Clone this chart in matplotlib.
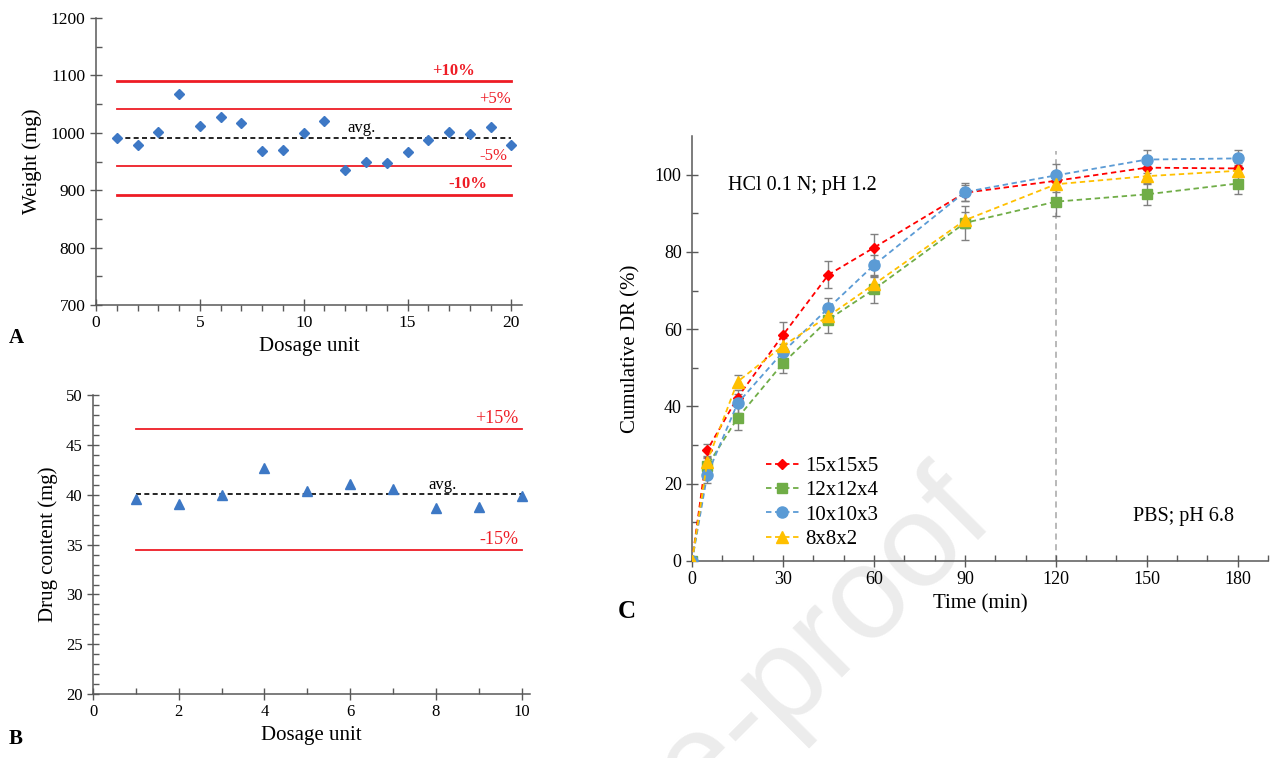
import matplotlib
matplotlib.use("Agg")
import matplotlib.pyplot as plt
from matplotlib.ticker import MultipleLocator, FixedLocator
import numpy as np

plt.rcParams["font.family"] = ["Liberation Serif", "DejaVu Serif"]

# panel A - weight uniformity
unit_a = list(range(1, 21))
weight = [991.8, 979, 1002, 1068, 1011.6, 1028, 1017.4, 968.6, 970.4, 1000,
          1020, 936, 949.5, 947.7, 967, 987, 1002, 998, 1010.5, 979.6]

# panel B - content uniformity
unit_b = list(range(1, 11))
content = [39.64, 39.07, 40.04, 42.71, 40.4, 41.07, 40.64, 38.67, 38.74, 39.94]
content_nominal = 40.5

# panel C - dissolution
time_min = [0, 5, 15, 30, 45, 60, 90, 120, 150, 180]
series_names = ["15x15x5", "12x12x4", "10x10x3", "8x8x2"]
dr_15 = [0, 28.7, 42.3, 58.5, 74.1, 81.1, 95.3, 98.4, 101.8, 101.6]
sd_15 = [0, 1.7, 2.0, 3.3, 3.5, 3.6, 2.0, 2.0, 1.5, 1.5]
dr_12 = [0, 24.6, 37.0, 51.2, 62.5, 70.3, 87.5, 93.0, 94.9, 97.7]
sd_12 = [0, 2.0, 3.1, 2.6, 3.6, 3.4, 4.5, 3.8, 2.7, 2.8]
dr_10 = [0, 22.3, 40.8, 54.1, 65.5, 76.6, 95.5, 99.8, 103.9, 104.2]
sd_10 = [0, 2.0, 2.5, 2.0, 2.5, 2.5, 2.3, 3.0, 2.4, 2.2]
dr_8 = [0, 25.7, 46.4, 55.7, 63.4, 71.6, 88.2, 97.5, 99.6, 101.0]
sd_8 = [0, 1.5, 1.7, 2.0, 2.0, 2.0, 2.0, 2.0, 1.7, 1.5]
medium_switch = 120
switch_top = 106

RED = "#ee1c25"
BLUE = "#3d78c5"
AXC = "#595959"


def style_axis(ax):
    for s in ["top", "right"]:
        ax.spines[s].set_visible(False)
    for s in ["left", "bottom"]:
        ax.spines[s].set_color(AXC)
        ax.spines[s].set_linewidth(1.1)
    ax.set_facecolor("none")
    ax.tick_params(which="major", direction="inout", length=8, width=1, color=AXC)
    ax.tick_params(which="minor", direction="in", length=4, width=1, color=AXC)


def limit_lines(ax, x, center, pcts, widths, labels, label_x, bold, fs):
    for p, lw, lab, lx, b in zip(pcts, widths, labels, label_x, bold):
        yv = center * (1 + p / 100)
        ax.plot([x[0], x[-1]], [yv, yv], color=RED, lw=lw, zorder=2)
        ax.annotate(lab, (lx, yv), xytext=(0, 1.5), textcoords="offset points",
                    ha="right", va="bottom", color=RED, fontsize=fs,
                    fontweight="bold" if b else "normal")


fig = plt.figure(figsize=(12.71, 7.58), dpi=100)

# faint watermark, only its tail is inside the picture
fig.text(0.7655, 0.342, "Journal Pre-proof", rotation=45, rotation_mode="anchor",
         ha="right", va="center", fontsize=95, color="#ececec",
         family="Liberation Sans", zorder=-1)

# ---- A ----
ax_a = fig.add_axes([0.0755, 0.5976, 0.335, 0.3786])
style_axis(ax_a)
avg_a = np.mean(weight)
limit_lines(ax_a, unit_a, avg_a, [10, 5, -5, -10], [2.0, 1.3, 1.3, 2.0],
            ["+10%", "+5%", "-5%", "-10%"], [18.25, 20.0, 19.8, 18.85],
            [True, False, False, True], 12)
ax_a.plot([unit_a[0], unit_a[-1]], [avg_a, avg_a], color="black", ls=(0, (3, 2)), lw=1.2)
ax_a.annotate("avg.", (12.8, avg_a), xytext=(0, 1), textcoords="offset points",
              ha="center", va="bottom", fontsize=12)
ax_a.plot(unit_a, weight, "D", color=BLUE, ms=5.5, ls="none", zorder=3)
ax_a.set_xlim(0, 20.5)
ax_a.set_ylim(700, 1200)
ax_a.xaxis.set_major_locator(FixedLocator([0, 5, 10, 15, 20]))
ax_a.xaxis.set_minor_locator(MultipleLocator(1))
ax_a.yaxis.set_major_locator(MultipleLocator(100))
ax_a.yaxis.set_minor_locator(MultipleLocator(50))
ax_a.tick_params(axis="x", which="minor", direction="out", length=4)
ax_a.tick_params(labelsize=12.5)
ax_a.set_ylabel("Weight (mg)", fontsize=15, labelpad=6)
ax_a.set_xlabel("Dosage unit", fontsize=15, labelpad=4)
fig.text(0.007, 0.547, "A", fontsize=15, fontweight="bold")

# ---- B ----
ax_b = fig.add_axes([0.0732, 0.0844, 0.344, 0.394])
style_axis(ax_b)
avg_b = np.mean(content)
limit_lines(ax_b, unit_b, content_nominal, [15, -15], [1.3, 1.3],
            ["+15%", "-15%"], [9.93, 9.93], [False, False], 13)
ax_b.plot([unit_b[0], unit_b[-1]], [avg_b, avg_b], color="black", ls=(0, (3, 2)), lw=1.2)
ax_b.annotate("avg.", (8.15, avg_b), xytext=(0, 1), textcoords="offset points",
              ha="center", va="bottom", fontsize=12)
ax_b.plot(unit_b, content, "^", color=BLUE, ms=6.5, ls="none", zorder=3)
ax_b.set_xlim(0, 10.2)
ax_b.set_ylim(20, 50)
ax_b.xaxis.set_major_locator(FixedLocator([0, 2, 4, 6, 8, 10]))
ax_b.xaxis.set_minor_locator(MultipleLocator(1))
ax_b.yaxis.set_major_locator(MultipleLocator(5))
ax_b.yaxis.set_minor_locator(MultipleLocator(1))
ax_b.tick_params(labelsize=12)
ax_b.set_ylabel("Drug content (mg)", fontsize=15, labelpad=6)
ax_b.set_xlabel("Dosage unit", fontsize=15, labelpad=4)
fig.text(0.007, 0.018, "B", fontsize=15, fontweight="bold")

# ---- C ----
ax_c = fig.add_axes([0.5445, 0.2599, 0.4532, 0.5607])
style_axis(ax_c)
ax_c.plot([medium_switch, medium_switch], [0, switch_top], color="#a6a6a6",
          ls=(0, (4, 3)), lw=1.1, zorder=1)
colors = ["#ff0000", "#70ad47", "#5b9bd5", "#ffc000"]
markers = ["D", "s", "o", "^"]
msizes = [5, 7.5, 8, 8]
for name, y, e, c, m, ms in zip(series_names, [dr_15, dr_12, dr_10, dr_8],
                                [sd_15, sd_12, sd_10, sd_8], colors, markers, msizes):
    ax_c.errorbar(time_min, y, yerr=e, color=c, marker=m, ms=ms, ls=(0, (3, 2)),
                  lw=1.3, ecolor="#808080", elinewidth=1, capsize=3, capthick=1,
                  label=name, zorder=3)
ax_c.set_xlim(0, 190)
ax_c.set_ylim(0, 110)
ax_c.xaxis.set_major_locator(FixedLocator([0, 30, 60, 90, 120, 150, 180]))
ax_c.xaxis.set_minor_locator(MultipleLocator(10))
ax_c.yaxis.set_major_locator(FixedLocator([0, 20, 40, 60, 80, 100]))
ax_c.yaxis.set_minor_locator(FixedLocator([10, 30, 50, 70, 90]))
ax_c.tick_params(labelsize=13)
ax_c.set_ylabel("Cumulative DR (%)", fontsize=15, labelpad=10)
ax_c.set_xlabel("Time (min)", fontsize=15, labelpad=4)
ax_c.text(11.9, 97.3, "HCl 0.1 N; pH 1.2", fontsize=14.5, va="center", ha="left")
ax_c.text(145.5, 11.4, "PBS; pH 6.8", fontsize=14.5, va="center", ha="left")

handles, labels = ax_c.get_legend_handles_labels()
handles = [h[0] for h in handles]
ax_c.legend(handles, labels, loc="center left", bbox_to_anchor=(0.128, 0.137),
            frameon=False, fontsize=15, handlelength=1.6, handletextpad=0.3,
            labelspacing=0.22, borderpad=0, borderaxespad=0, numpoints=1)
fig.text(0.486, 0.185, "C", fontsize=18, fontweight="bold")

fig.savefig("out.png", dpi=100)
